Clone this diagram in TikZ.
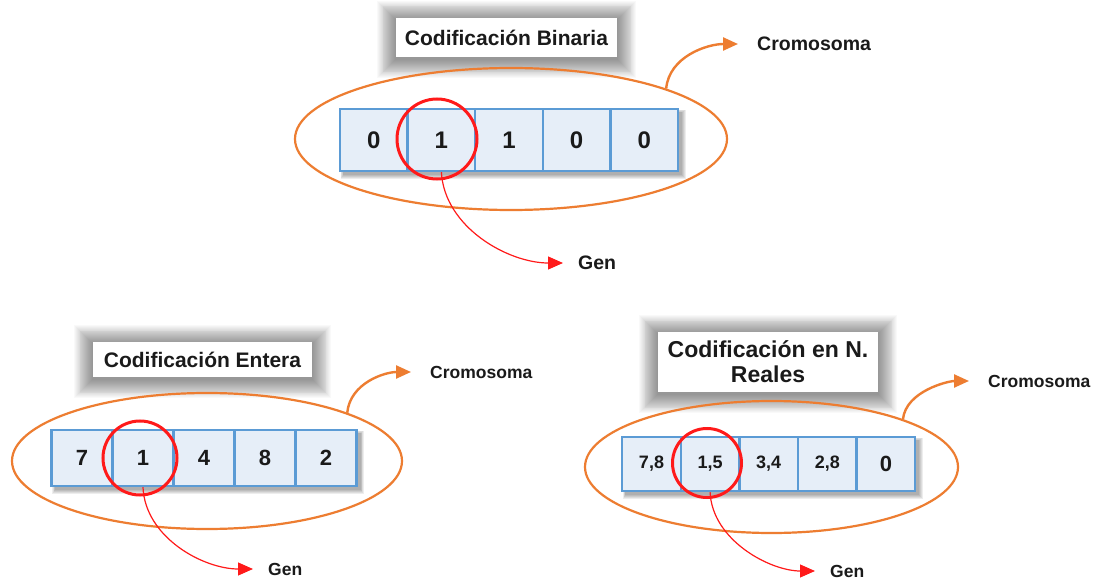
\documentclass[tikz,border=0pt]{standalone}
\usepackage{fontspec}
\setmainfont{Liberation Sans}
\usetikzlibrary{shapes.geometric,arrows.meta,calc}
\pgfdeclarelayer{paper}
\pgfdeclarelayer{bg}
\pgfsetlayers{paper,bg,main}
\definecolor{cellfill}{HTML}{E6EEF8}
\definecolor{cellline}{HTML}{5B9BD5}
\definecolor{chromo}{HTML}{ED7D31}
\definecolor{genred}{HTML}{FF1A1A}
\definecolor{ink}{HTML}{1A1A1A}

\tikzset{
  cell/.style={rectangle, draw=cellline, fill=cellfill, line width=2.4pt, inner sep=0pt,
    text=ink, font=\bfseries\fontsize{24}{26}\selectfont},
  smallcell/.style={cell, font=\bfseries\fontsize{18}{20}\selectfont},
  titlebox/.style={rectangle, fill=white, inner sep=0pt, align=center, text=ink,
    font=\bfseries\fontsize{21}{25}\selectfont},
  chromring/.style={ellipse, draw=chromo, line width=2.2pt, inner sep=0pt},
  genring/.style={circle, draw=genred, line width=3pt, inner sep=0pt},
  lbl/.style={anchor=west, inner sep=0pt, text=ink, font=\bfseries\fontsize{19.5}{22}\selectfont},
  smalllbl/.style={lbl, font=\bfseries\fontsize{17.5}{20}\selectfont},
  genarrow/.style={draw=genred, line width=1.2pt, shorten >=15pt,
    -{Triangle[length=15pt,width=13pt]}},
  chromarrow/.style={draw=chromo, line width=2.4pt, shorten >=19pt,
    -{Triangle[length=15pt,width=13pt]}},
}

% soft grey halo round a title box
\newcommand\titlehalo[1]{%
  \begin{pgfonlayer}{bg}
    \foreach \k in {1,...,20}{
      \fill[black,opacity=0.024]
        ($(#1.north west)+(-0.95*\k,-0.95*\k+2)$) rectangle ($(#1.south east)+(0.95*\k,0.95*\k+2)$);
    }
  \end{pgfonlayer}}
% drop shadow under a row of cells
\newcommand\rowshadow[2]{%
  \begin{pgfonlayer}{bg}
    \foreach \k in {1,...,5}{
      \fill[black,opacity=0.07]
        ($(#1.north west)+(5-0.6*\k,5-0.6*\k)$) rectangle ($(#2.south east)+(2+0.9*\k,2+0.9*\k)$);
    }
  \end{pgfonlayer}}

\begin{document}
\begin{tikzpicture}[x=1pt,y=-1pt]
\useasboundingbox (0,0) rectangle (1098,580);
\begin{pgfonlayer}{paper}
  \fill[white] (0,0) rectangle (1098,580);
\end{pgfonlayer}

% ---------- binary encoding ----------
\node[titlebox, minimum width=221pt, minimum height=39pt] (t1) at (506.5,37.5) {Codificación Binaria};
\titlehalo{t1}
\node[chromring, minimum width=432pt, minimum height=142pt] (e1) at (511,139) {};
\node[cell, minimum width=67.6pt, minimum height=62pt] (a1) at (373.8,140) {0};
\node[cell, minimum width=67.6pt, minimum height=62pt] (a2) at (441.4,140) {1};
\node[cell, minimum width=67.6pt, minimum height=62pt] (a3) at (509.0,140) {1};
\node[cell, minimum width=67.6pt, minimum height=62pt] (a4) at (576.6,140) {0};
\node[cell, minimum width=67.6pt, minimum height=62pt] (a5) at (644.2,140) {0};
\rowshadow{a1}{a5}
\node[genring, minimum size=80pt] (r1) at (437,139) {};
\node[lbl] (g1) at (578,263) {Gen};
\node[lbl] (k1) at (757,44) {Cromosoma};
\draw[genarrow] (a2.south) .. controls +(3,55) and +(-70,0) .. (g1.west);
\draw[chromarrow] (e1.18.7) .. controls +(3,-32) and +(-50,0) .. (k1.west);

% ---------- integer encoding ----------
\node[titlebox, minimum width=219pt, minimum height=35pt] (t2) at (202.5,359.5) {Codificación Entera};
\titlehalo{t2}
\node[chromring, minimum width=390pt, minimum height=136pt] (e2) at (207,461) {};
\node[cell, minimum width=61pt, minimum height=56pt, font=\bfseries\fontsize{22}{24}\selectfont] (b1) at (82,458) {7};
\node[cell, minimum width=61pt, minimum height=56pt, font=\bfseries\fontsize{22}{24}\selectfont] (b2) at (143,458) {1};
\node[cell, minimum width=61pt, minimum height=56pt, font=\bfseries\fontsize{22}{24}\selectfont] (b3) at (204,458) {4};
\node[cell, minimum width=61pt, minimum height=56pt, font=\bfseries\fontsize{22}{24}\selectfont] (b4) at (265,458) {8};
\node[cell, minimum width=61pt, minimum height=56pt, font=\bfseries\fontsize{22}{24}\selectfont] (b5) at (326,458) {2};
\rowshadow{b1}{b5}
\node[genring, minimum size=74pt] (r2) at (140,458) {};
\node[smalllbl] (g2) at (268,569) {Gen};
\node[smalllbl] (k2) at (430,372) {Cromosoma};
\draw[genarrow] (b2.south) .. controls +(2,50) and +(-65,0) .. (g2.west);
\draw[chromarrow] (e2.19.8) .. controls +(3,-30) and +(-45,0) .. (k2.west);

% ---------- real-number encoding ----------
\node[titlebox, minimum width=220pt, minimum height=60pt, font=\bfseries\fontsize{23}{25}\selectfont] (t3) at (768,362) {Codificación en N.\\Reales};
\titlehalo{t3}
\node[chromring, minimum width=373pt, minimum height=132pt] (e3) at (771.5,467) {};
\node[smallcell, minimum width=58.6pt, minimum height=54pt] (c1) at (651.5,464) {7,8};
\node[smallcell, minimum width=58.6pt, minimum height=54pt] (c2) at (710.1,464) {1,5};
\node[smallcell, minimum width=58.6pt, minimum height=54pt] (c3) at (768.7,464) {3,4};
\node[smallcell, minimum width=58.6pt, minimum height=54pt] (c4) at (827.3,464) {2,8};
\node[cell, minimum width=58.6pt, minimum height=54pt, font=\bfseries\fontsize{22}{24}\selectfont] (c5) at (885.9,464) {0};
\rowshadow{c1}{c5}
\node[genring, minimum size=69pt] (r3) at (707,463) {};
\node[smalllbl] (g3) at (830,571) {Gen};
\node[smalllbl] (k3) at (988,381) {Cromosoma};
\draw[genarrow] (c2.south) .. controls +(2,48) and +(-60,0) .. (g3.west);
\draw[chromarrow] (e3.20.4) .. controls +(3,-28) and +(-40,0) .. (k3.west);
\end{tikzpicture}
\end{document}
